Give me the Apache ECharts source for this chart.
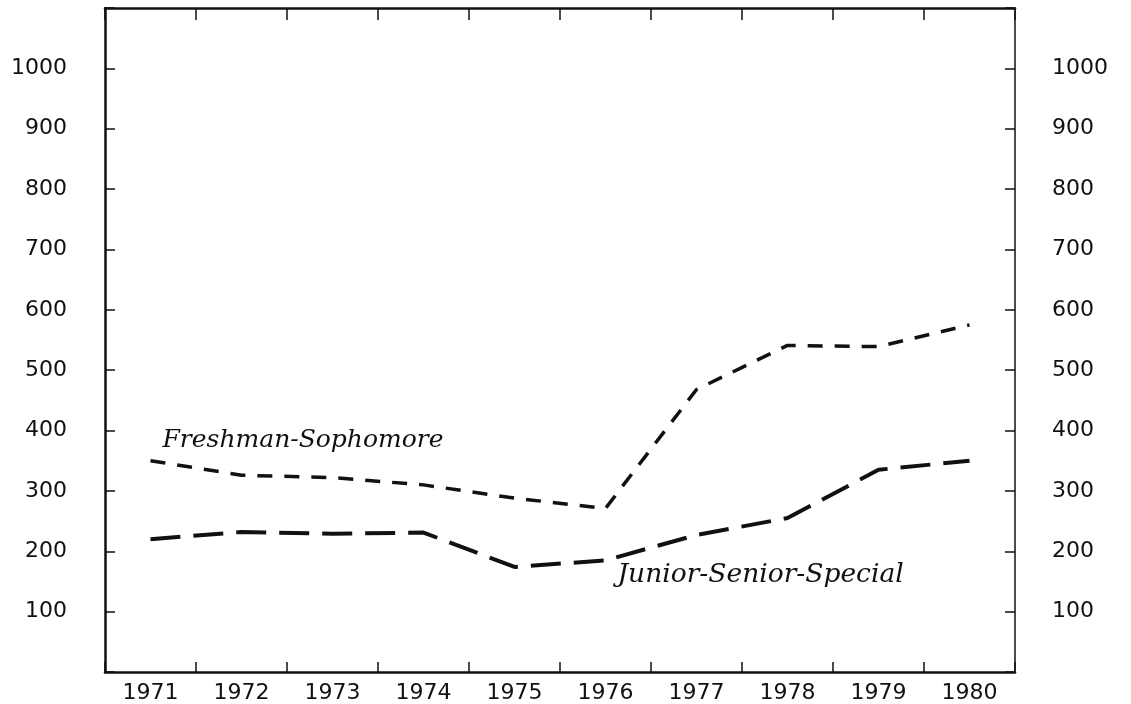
<!DOCTYPE html>
<html lang="en">
<head>
    <meta charset="utf-8"/>
    <title>Enrollment 1971-1980</title>
    <script src="https://cdn.jsdelivr.net/npm/echarts@6/dist/echarts.min.js"></script>
    <style>
        html, body { margin: 0; padding: 0; background: #fff; }
        #chart { width: 1131px; height: 704px; }
    </style>
</head>
<body>
    <div id="chart"></div>
    <script>
        // values
        const years = ['1971', '1972', '1973', '1974', '1975', '1976', '1977', '1978', '1979', '1980'];
        const freshSoph = [350, 326, 322, 310, 288, 271, 468, 541, 539, 575];
        const juniorSenior = [220, 232, 229, 231, 174, 185, 227, 255, 335, 350];
        const yTicks = [100, 200, 300, 400, 500, 600, 700, 800, 900, 1000];

        const chart = echarts.init(document.getElementById('chart'));
        const labelFont = { fontFamily: 'DejaVu Sans', fontSize: 22, color: '#111' };
        const noteFont = { fontFamily: 'DejaVu Serif', fontStyle: 'italic', color: '#111' };

        function yLabel(v) {
            return yTicks.indexOf(v) >= 0 ? String(v) : '';
        }

        const option = {
            backgroundColor: '#fff',
            animation: false,
            grid: { left: 105, right: 116, top: 8, bottom: 32 },
            xAxis: [{
                type: 'category',
                data: years,
                boundaryGap: true,
                position: 'bottom',
                axisLine: { show: true, onZero: false, lineStyle: { color: '#111', width: 2.5 } },
                axisTick: { show: true, interval: 0, inside: true, length: 10, lineStyle: { color: '#111', width: 1.5 } },
                axisLabel: Object.assign({ margin: 10, interval: 0 }, labelFont),
                splitLine: { show: false }
            }, {
                type: 'category',
                data: years,
                boundaryGap: true,
                position: 'top',
                axisLine: { show: true, onZero: false, lineStyle: { color: '#111', width: 2.5 } },
                axisTick: { show: true, interval: 0, inside: true, length: 12, lineStyle: { color: '#111', width: 1.5 } },
                axisLabel: { show: false },
                splitLine: { show: false }
            }],
            yAxis: [{
                type: 'value',
                min: 0,
                max: 1100,
                interval: 100,
                position: 'left',
                axisLine: { show: true, onZero: false, lineStyle: { color: '#111', width: 2.5 } },
                axisTick: { show: true, inside: true, length: 10, lineStyle: { color: '#111', width: 1.5 } },
                axisLabel: Object.assign({ margin: 38, formatter: yLabel }, labelFont),
                splitLine: { show: false }
            }, {
                type: 'value',
                min: 0,
                max: 1100,
                interval: 100,
                position: 'right',
                axisLine: { show: true, onZero: false, lineStyle: { color: '#111', width: 1.5 } },
                axisTick: { show: true, inside: true, length: 10, lineStyle: { color: '#111', width: 1.5 } },
                axisLabel: Object.assign({ margin: 37, formatter: yLabel }, labelFont),
                splitLine: { show: false }
            }],
            series: [{
                type: 'line',
                name: 'Freshman-Sophomore',
                data: freshSoph,
                showSymbol: false,
                lineStyle: { color: '#111', width: 3.5, type: [15, 12] },
                markPoint: {
                    symbolSize: 0,
                    data: [{ coord: ['1971', 383] }],
                    label: Object.assign({
                        show: true, position: 'inside', align: 'left', offset: [12, 0],
                        fontSize: 25, formatter: 'Freshman-Sophomore'
                    }, noteFont)
                }
            }, {
                type: 'line',
                name: 'Junior-Senior-Special',
                data: juniorSenior,
                showSymbol: false,
                lineStyle: { color: '#111', width: 4, type: [30, 13] },
                markPoint: {
                    symbolSize: 0,
                    data: [{ coord: ['1976', 161] }],
                    label: Object.assign({
                        show: true, position: 'inside', align: 'left', offset: [12, 0],
                        fontSize: 26.5, formatter: 'Junior-Senior-Special'
                    }, noteFont)
                }
            }]
        };
        chart.setOption(option);
    </script>
</body>
</html>
